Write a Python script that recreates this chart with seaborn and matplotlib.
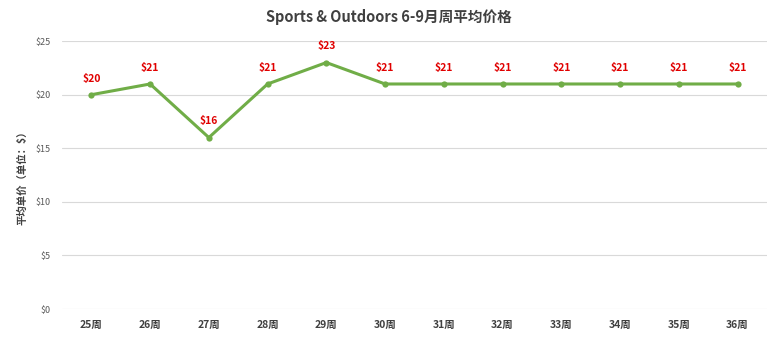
import matplotlib
matplotlib.use("Agg")
import matplotlib.pyplot as plt
import seaborn as sns
import pandas as pd

weeks = ["25周", "26周", "27周", "28周", "29周", "30周", "31周", "32周", "33周", "34周", "35周", "36周"]
prices = [20, 21, 16, 21, 23, 21, 21, 21, 21, 21, 21, 21]
yticks = [0, 5, 10, 15, 20, 25]

sns.set_theme(style="white")
plt.rcParams['font.family'] = ['Noto Sans CJK SC', 'DejaVu Sans']

df = pd.DataFrame({"week": weeks, "price": prices})

fig = plt.figure(figsize=(7.78, 3.43), dpi=100)
ax = fig.add_axes([0.0797, 0.0991, 0.906, 0.781])

sns.lineplot(data=df, x="week", y="price", ax=ax, color="#70AD47", linewidth=2.2,
             marker="o", markersize=4.5, markeredgewidth=0, sort=False)

for i, v in enumerate(prices):
    ax.annotate(f"${v}", (i, v), xytext=(0, 8), textcoords="offset points",
                ha="center", va="bottom", color="#E00000", fontsize=7.5, fontweight="bold")

ax.set_xlim(-0.5, len(weeks) - 0.5)
ax.set_ylim(0, 25)
ax.set_yticks(yticks)
ax.set_yticklabels([f"${t}" for t in yticks], fontsize=6.5, color="#595959")
ax.tick_params(axis="x", labelsize=7.5, colors="#404040", length=0, pad=8)
ax.tick_params(axis="y", length=0, pad=8)
for lbl in ax.get_xticklabels():
    lbl.set_fontweight("bold")
ax.yaxis.grid(True, color="#D9D9D9", linewidth=0.8)
ax.set_axisbelow(True)
for s in ax.spines.values():
    s.set_visible(False)

ax.set_xlabel("")
ax.set_ylabel("平均单价（单位：$）", fontsize=7.5, fontweight="bold", color="#404040", labelpad=6)
fig.suptitle("Sports & Outdoors 6-9月周平均价格", y=0.975, fontsize=10.5, fontweight="bold", color="#404040")

fig.savefig("out.png", dpi=100)
